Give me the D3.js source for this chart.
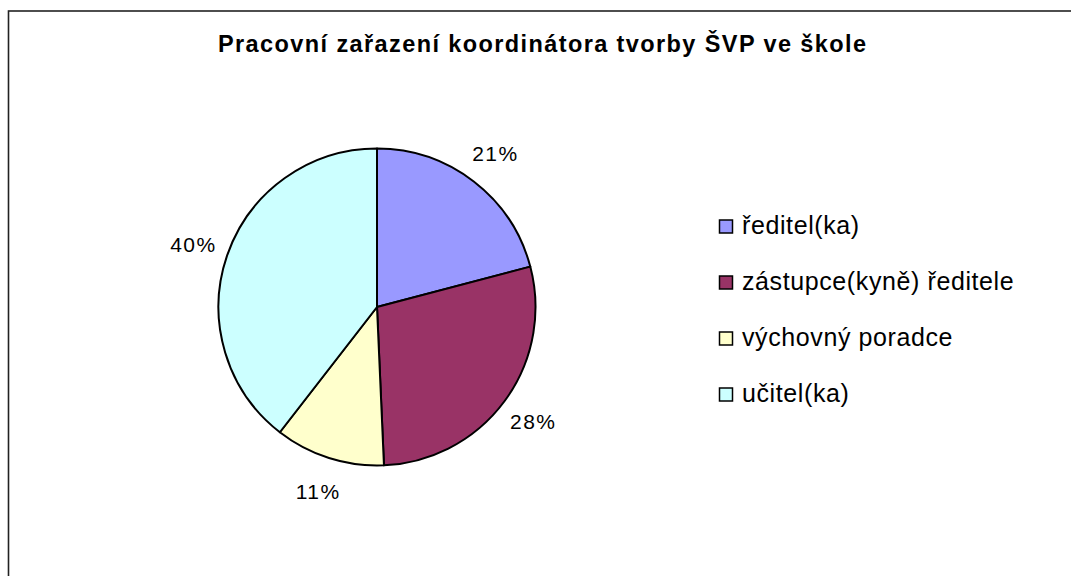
<!DOCTYPE html>
<html>
<head>
<meta charset="utf-8">
<script src="https://cdn.jsdelivr.net/npm/d3@7/dist/d3.min.js"></script>
<style>
    body { margin: 0; background: #fff; }
    svg { display: block; font-family: "Liberation Sans", Arial, sans-serif; }
    .chart--title { font-size: 23.5px; font-weight: bold; letter-spacing: 1.4px; }
    .chart--label { font-size: 21px; letter-spacing: 1.5px; }
    .legend--text { font-size: 25px; letter-spacing: 0.6px; }
</style>
</head>
<body>
<div id="chart"></div>
<script>
// Data
var title = 'Pracovní zařazení koordinátora tvorby ŠVP ve škole';
var categories = ['ředitel(ka)', 'zástupce(kyně) ředitele', 'výchovný poradce', 'učitel(ka)'];
var values = [20.9, 28.4, 11.2, 39.5];
var percentLabels = ['21%', '28%', '11%', '40%'];
var colors = ['#9999FF', '#993366', '#FFFFCC', '#CCFFFF'];

var width = 1071, height = 576;
var cx = 377, cy = 307, radius = 158.5, labelRadius = 194;

var svg = d3.select('#chart').append('svg')
    .attr('width', width)
    .attr('height', height);

// Frame (right and bottom edges run off the picture)
svg.append('rect')
    .attr('x', 8.5)
    .attr('y', 11)
    .attr('width', width + 20)
    .attr('height', height + 20)
    .attr('fill', '#fff')
    .attr('stroke', '#222')
    .attr('stroke-width', 1.6);

// Title
svg.append('text')
    .attr('class', 'chart--title')
    .attr('x', 218)
    .attr('y', 52)
    .text(title);

var dataset = categories.map(function (c, i) {
    return { name: c, value: values[i], label: percentLabels[i], color: colors[i] };
});

var pie = d3.pie().value(function (d) { return d.value; }).sort(null);
var arc = d3.arc().innerRadius(0).outerRadius(radius);
var labelArc = d3.arc().innerRadius(labelRadius).outerRadius(labelRadius);

var g = svg.append('g')
    .attr('transform', 'translate(' + cx + ',' + cy + ')');

var arcs = pie(dataset);

g.selectAll('path')
    .data(arcs)
    .enter()
    .append('path')
    .attr('d', arc)
    .attr('fill', function (d) { return d.data.color; })
    .attr('stroke', '#000')
    .attr('stroke-width', 2)
    .attr('stroke-linejoin', 'round');

g.selectAll('text')
    .data(arcs)
    .enter()
    .append('text')
    .attr('class', 'chart--label')
    .attr('transform', function (d) { return 'translate(' + labelArc.centroid(d) + ')'; })
    .attr('text-anchor', 'middle')
    .attr('dy', '0.35em')
    .text(function (d) { return d.data.label; });

// Legend
var legendY = d3.scalePoint()
    .domain(categories)
    .range([226, 394]);

var legend = svg.append('g').attr('class', 'legend');

var item = legend.selectAll('g')
    .data(dataset)
    .enter()
    .append('g')
    .attr('transform', function (d) { return 'translate(719,' + legendY(d.name) + ')'; });

item.append('rect')
    .attr('x', 0.5)
    .attr('y', -6)
    .attr('width', 13)
    .attr('height', 13)
    .attr('fill', function (d) { return d.color; })
    .attr('stroke', '#000')
    .attr('stroke-width', 1.5);

item.append('text')
    .attr('class', 'legend--text')
    .attr('x', 23)
    .attr('dy', '0.3em')
    .text(function (d) { return d.name; });
</script>
</body>
</html>
